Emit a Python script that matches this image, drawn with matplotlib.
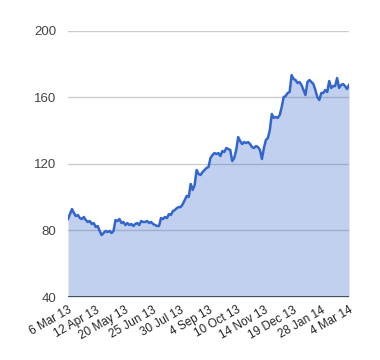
import matplotlib
matplotlib.use("Agg")
import matplotlib.pyplot as plt
import numpy as np

values = [
    86.9, 89.9, 92.9, 90.5, 88.7, 89.3, 87.5, 86.9, 88.1, 86.3,
    85.1, 85.7, 83.9, 84.5, 82.1, 82.7, 79.7, 77.3, 78.5, 79.7,
    79.1, 79.7, 78.5, 79.7, 86.3, 85.7, 86.9, 84.5, 85.1, 83.3,
    84.5, 83.3, 83.9, 82.7, 83.9, 84.5, 83.3, 85.7, 85.1, 85.1,
    85.7, 84.5, 85.1, 83.9, 83.3, 82.7, 82.7, 87.5, 86.9, 88.1,
    87.5, 89.9, 89.3, 91.7, 92.3, 93.5, 94.1, 94.1, 95.9, 98.3,
    100.8, 100.2, 108.0, 104.4, 107.4, 116.4, 114.0, 113.4, 115.2, 116.4,
    117.6, 118.2, 123.6, 125.4, 126.6, 126.0, 126.6, 124.8, 127.8, 127.2,
    129.6, 129.0, 128.4, 121.8, 123.6, 128.4, 136.2, 133.8, 132.0, 133.2,
    132.6, 133.2, 132.0, 130.2, 129.6, 130.8, 130.2, 128.4, 123.0, 129.6,
    134.4, 135.6, 140.5, 150.1, 147.7, 148.3, 147.7, 149.5, 154.3, 160.3,
    160.9, 162.7, 163.3, 173.5, 171.1, 170.5, 168.7, 169.3, 167.5, 164.5,
    161.5, 169.3, 170.5, 169.3, 168.1, 164.5, 160.3, 158.5, 162.7, 162.7,
    164.5, 163.3, 169.9, 165.7, 166.9, 166.9, 171.7, 165.7, 167.5, 168.1,
    166.9, 165.1, 167.5,
]
tick_labels = ["6 Mar 13", "12 Apr 13", "20 May 13", "25 Jun 13", "30 Jul 13",
               "4 Sep 13", "10 Oct 13", "14 Nov 13", "19 Dec 13", "28 Jan 14", "4 Mar 14"]
y_ticks = [40, 80, 120, 160, 200]

plt.rcParams['font.family'] = ['Liberation Sans', 'DejaVu Sans']

fig = plt.figure(figsize=(3.8, 3.6), dpi=100)
ax = fig.add_axes([68/380, 1-297/360, (349-68)/380, (297-31)/360])

x = np.arange(len(values))
ax.fill_between(x, values, 40, color='#3366CC', alpha=0.3, linewidth=0)
ax.plot(x, values, color='#3366CC', linewidth=1.8, solid_joinstyle='round')

ax.set_xlim(0, len(values) - 1)
ax.set_ylim(40, 200)
ax.set_yticks(y_ticks)
ax.set_yticklabels([str(v) for v in y_ticks], fontsize=9.5, color='#444444')
for v in y_ticks[1:]:
    ax.axhline(v, color='#CCCCCC', linewidth=1, zorder=0)
ax.axhline(40, color='#333333', linewidth=1.2, zorder=3)

tpos = np.linspace(0, len(values) - 1, len(tick_labels))
ax.set_xticks(tpos)
ax.set_xticklabels(tick_labels, fontsize=8.5, color='#222222', rotation=30,
                   ha='right', rotation_mode='anchor')
ax.tick_params(axis='both', length=0)
ax.tick_params(axis='y', pad=8.5)
ax.tick_params(axis='x', pad=5)
for s in ax.spines.values():
    s.set_visible(False)

fig.savefig('out.png', dpi=100)
